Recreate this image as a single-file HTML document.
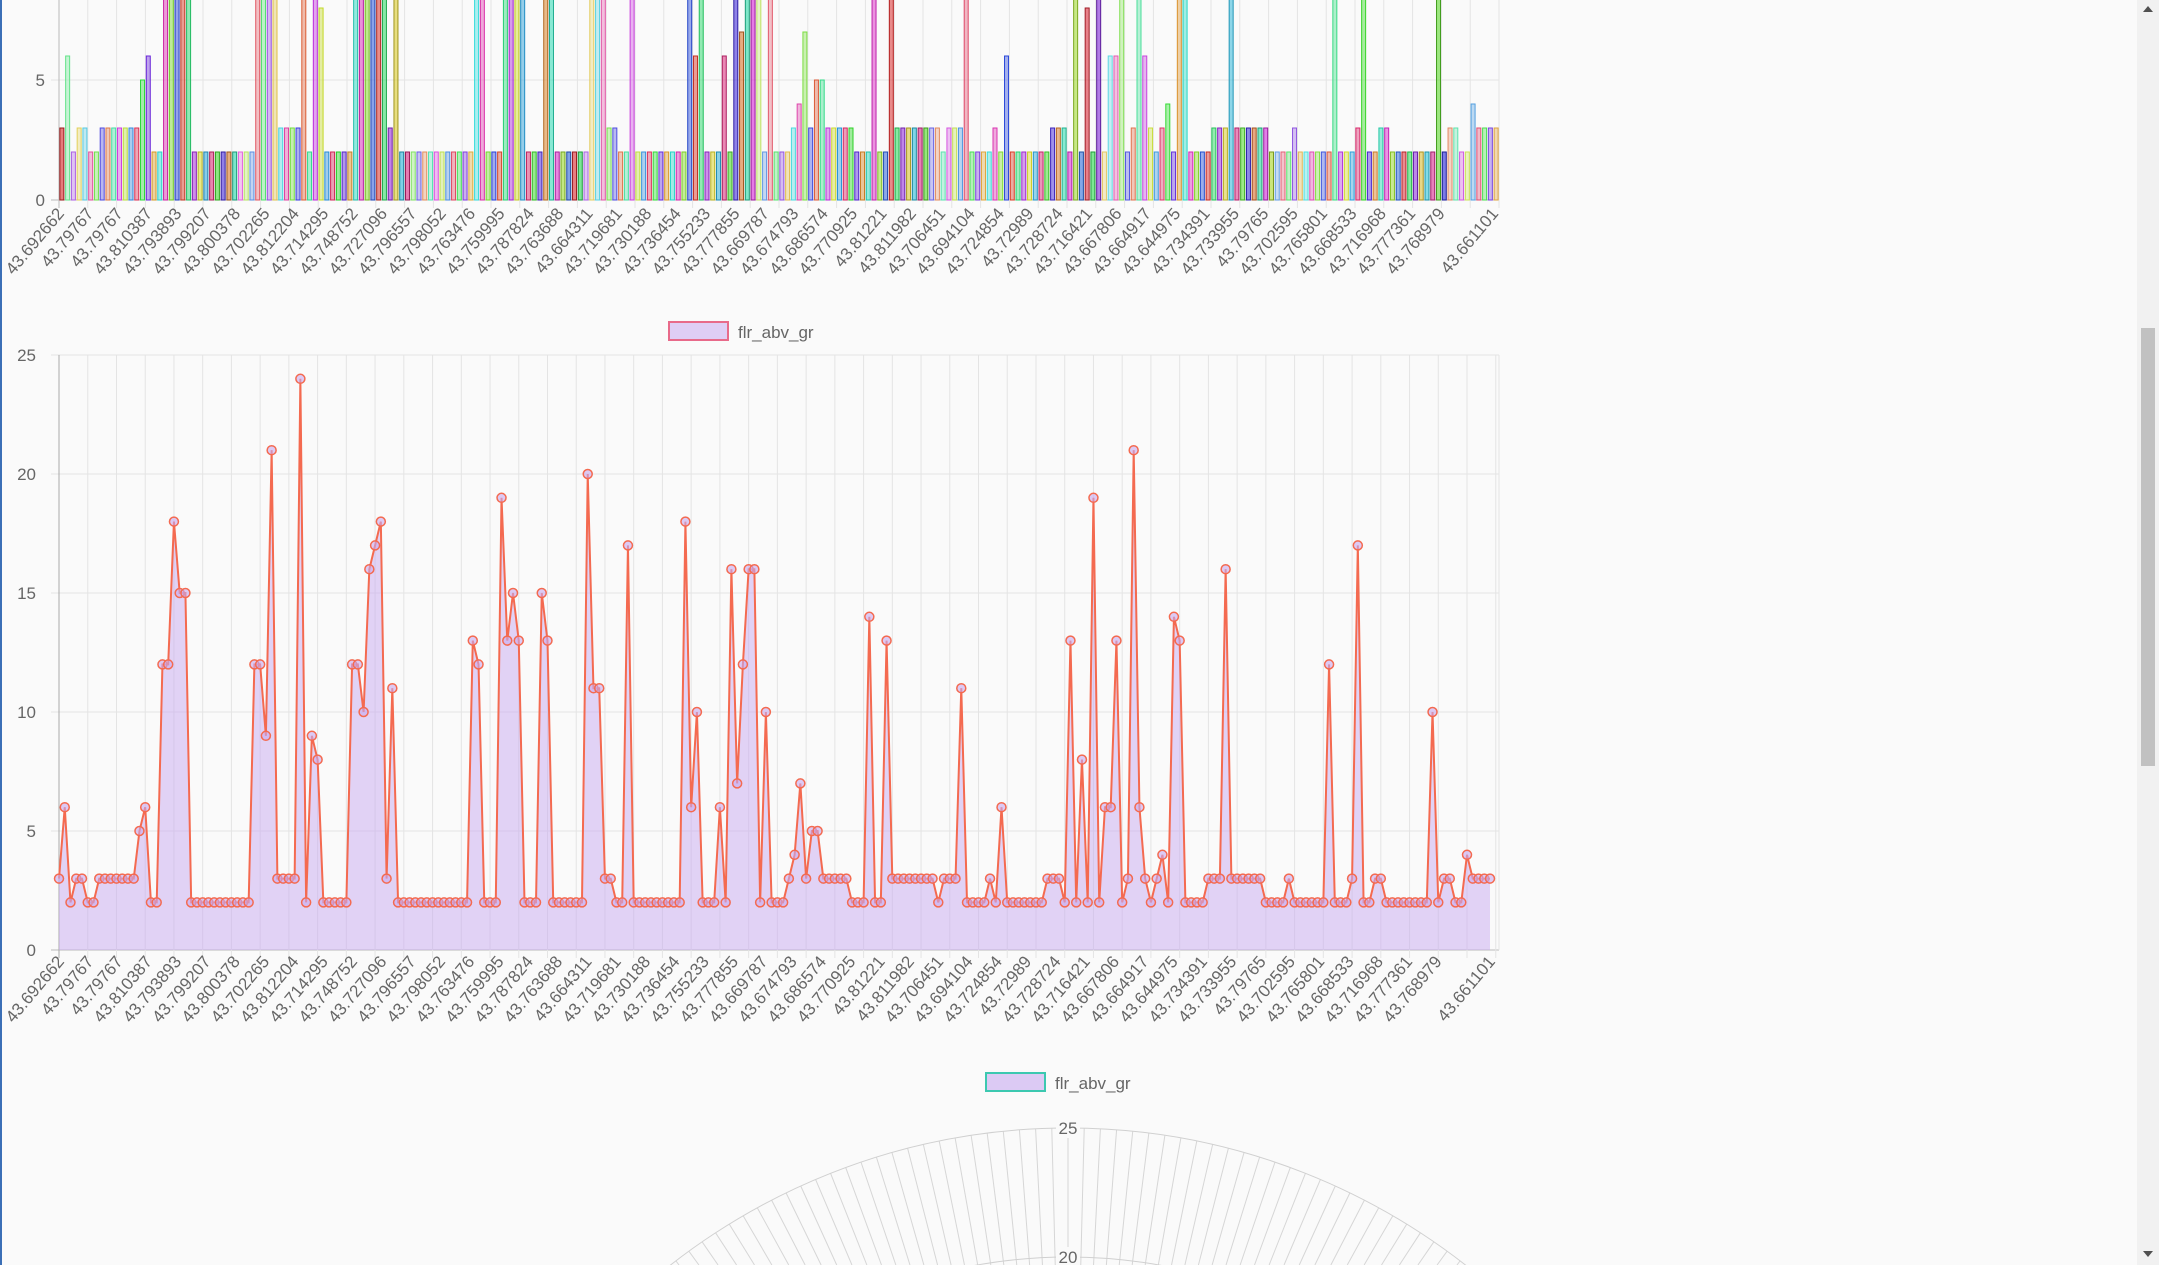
<!DOCTYPE html>
<html><head><meta charset="utf-8">
<style>
html,body{margin:0;padding:0;background:#fafafa;overflow:hidden;width:2159px;height:1265px;}
body{position:relative;font-family:"Liberation Sans",sans-serif;}
svg text{font-family:"Liberation Sans",sans-serif;}
</style></head>
<body>
<div style="position:absolute;left:0;top:0;width:2px;height:1265px;background:#3b6fb6"></div>
<svg id="chart" width="2159" height="1265" style="position:absolute;left:0;top:0;overflow:hidden"></svg>
<div style="position:absolute;left:2137px;top:0;width:22px;height:1265px;background:#f1f1f1">
  <div style="position:absolute;left:6px;top:6px;width:0;height:0;border-left:5px solid transparent;border-right:5px solid transparent;border-bottom:6px solid #505050"></div>
  <div style="position:absolute;left:4px;top:328px;width:14px;height:438px;background:#c1c1c1"></div>
  <div style="position:absolute;left:6px;top:1251px;width:0;height:0;border-left:5px solid transparent;border-right:5px solid transparent;border-top:6px solid #505050"></div>
</div>
<script>
const values = [3,6,2,3,3,2,2,3,3,3,3,3,3,3,5,6,2,2,12,12,18,15,15,2,2,2,2,2,2,2,2,2,2,2,12,12,9,21,3,3,3,3,24,2,9,8,2,2,2,2,2,12,12,10,16,17,18,3,11,
2,2,2,2,2,2,2,2,2,2,2,2,2,13,12,2,2,2,19,13,15,13,2,2,2,15,13,2,2,2,2,2,2,20,11,11,3,3,2,2,17,2,2,2,2,2,2,2,2,2,18,6,10,2,2,2,6,2,16,7,12,16,16,2,10,
2,2,2,3,4,7,3,5,5,3,3,3,3,3,2,2,2,14,2,2,13,3,3,3,3,3,3,3,3,2,3,3,3,11,2,2,2,2,3,2,6,2,2,2,2,2,2,2,3,3,3,2,13,2,8,2,19,2,6,6,13,2,3,21,
6,3,2,3,4,2,14,13,2,2,2,2,3,3,3,16,3,3,3,3,3,3,2,2,2,2,3,2,2,2,2,2,2,12,2,2,2,3,17,2,2,3,3,2,2,2,2,2,2,2,2,10,2,3,3,2,2,4,3,3,3,3];
const tickLabels = ["43.692662","43.79767","43.79767","43.810387","43.793893","43.799207","43.800378","43.702265","43.812204","43.714295","43.748752","43.727096","43.796557","43.798052","43.763476","43.759995","43.787824","43.763688","43.664311","43.719681","43.730188","43.736454","43.755233","43.777855","43.669787","43.674793","43.686574","43.770925","43.81221","43.811982","43.706451","43.694104","43.724854","43.72989","43.728724","43.716421","43.667806","43.664917","43.644975","43.734391","43.733955","43.79765","43.702595","43.765801","43.668533","43.716968","43.777361","43.768979"];
const lastLabel = "43.661101";
const yTicksTop = [0,5,10];
const yTicksLine = [0,5,10,15,20,25];
const polarTicks = [20,25];
const seriesName = "flr_abv_gr";

const NS="http://www.w3.org/2000/svg";
const svg=document.getElementById('chart');
function mk(tag,attrs,parent){const e=document.createElementNS(NS,tag);for(const k in attrs)e.setAttribute(k,attrs[k]);(parent||svg).appendChild(e);return e;}
const n=values.length;
const L=59,R=1499;

// ---------- Bar chart ----------
const gBar=mk('g',{});


const by=v=>200-v*24;
const band=(R-L)/n;
const bx=i=>L+band*(i+0.5);
for(const t of yTicksTop){const y=by(t);
  mk('line',{x1:L-8,x2:R,y1:y,y2:y,stroke:t===0?'#bbb':'#e4e4e4','stroke-width':1},gBar);
  if(y>0){const tx=mk('text',{x:L-14,y:y+6,'text-anchor':'end','font-size':17,fill:'#666'},gBar);tx.textContent=t;
  }}
for(let k=0;k<=50;k++){const x=L+k*5*band;mk('line',{x1:x,x2:x,y1:0,y2:208,stroke:k===0?'#bbb':'#e4e4e4'},gBar);}
values.forEach((v,i)=>{
  const hue=(i*137.5)%360, light=50+((i*29)%30);
  const r=mk('rect',{x:bx(i)-2,y:by(v),width:4,height:200-by(v),fill:`hsla(${hue},70%,${light}%,0.6)`,stroke:`hsl(${hue},70%,${light-15}%)`,'stroke-width':1},gBar);
  
  
});
function xLabels(g,xf,yTop,lastX,step){
  tickLabels.forEach((s,k)=>{const x=xf(k*step);
    const t=mk('text',{transform:`translate(${x+6},${yTop}) rotate(-50)`,'text-anchor':'end','font-size':17,fill:'#666'},g);t.textContent=s;
    });
  const t=mk('text',{transform:`translate(${lastX+6},${yTop}) rotate(-50)`,'text-anchor':'end','font-size':17,fill:'#666'},g);t.textContent=lastLabel;
  
}
xLabels(gBar,i=>L+band*i,214,L+band*(n-1),5.1);

// ---------- Line chart ----------
const gLine=mk('g',{});


const LR=1490;
const lx=i=>L+i*(LR-L)/(n-1);
const ly=v=>950-v*(595/25);
const lg=mk('rect',{x:669,y:322,width:59,height:18,fill:'rgba(200,170,240,0.55)',stroke:'#e86a8a','stroke-width':2},gLine);

const lt=mk('text',{x:738,y:338,'font-size':17,fill:'#666'},gLine);lt.textContent=seriesName;

for(const t of yTicksLine){const y=ly(t);
  mk('line',{x1:L-8,x2:R,y1:y,y2:y,stroke:t===0?'#bbb':'#e4e4e4'},gLine);
  const tx=mk('text',{x:L-23,y:y+6,'text-anchor':'end','font-size':17,fill:'#666'},gLine);tx.textContent=t;
  }
for(let k=0;k<=50;k++){const x=L+k*5*(LR-L)/(n-1);mk('line',{x1:x,x2:x,y1:355,y2:958,stroke:k===0?'#aaa':'#e4e4e4'},gLine);}
mk('line',{x1:R,x2:R,y1:355,y2:950,stroke:'#e4e4e4'},gLine);
let d='';values.forEach((v,i)=>{d+=(i?'L':'M')+lx(i).toFixed(2)+','+ly(v).toFixed(2);});
const area=mk('path',{d:d+`L${lx(n-1)},950L${lx(0)},950Z`,fill:'rgba(200,170,240,0.5)'},gLine);

const ln=mk('path',{d:d,fill:'none',stroke:'#f46a50','stroke-width':2},gLine);

values.forEach((v,i)=>{
  const c=mk('circle',{cx:lx(i),cy:ly(v),r:4.5,fill:'rgba(200,170,240,0.6)',stroke:'#f46a50','stroke-width':1.5},gLine);
  
  
});
xLabels(gLine,lx,962,lx(n-1),5.1);

// ---------- Polar chart ----------
const gP=mk('g',{});


const lg2=mk('rect',{x:986,y:1073,width:59,height:18,fill:'rgba(200,170,240,0.6)',stroke:'#3cc8b0','stroke-width':2},gP);

const lt2=mk('text',{x:1055,y:1089,'font-size':17,fill:'#666'},gP);lt2.textContent=seriesName;

const cx=1068, cy=1773, per=645/25;
for(let i=0;i<n;i++){const a=-Math.PI/2+i*2*Math.PI/n;
  const ex=cx+645*Math.cos(a), ey=cy+645*Math.sin(a);
  if(ey<1265) mk('line',{x1:cx+(1265-cy)/Math.sin(a)*Math.cos(a),y1:1265,x2:ex,y2:ey,stroke:'#d6d6d6'},gP);}
for(const t of polarTicks){
  mk('circle',{cx:cx,cy:cy,r:t*per,fill:'none',stroke:'#d0d0d0'},gP);
  mk('rect',{x:cx-12,y:cy-t*per-10,width:24,height:20,fill:'#fafafa'},gP);
  const tx=mk('text',{x:cx,y:cy-t*per+6,'text-anchor':'middle','font-size':17,fill:'#666'},gP);tx.textContent=t;
  
}
</script>
</body></html>
